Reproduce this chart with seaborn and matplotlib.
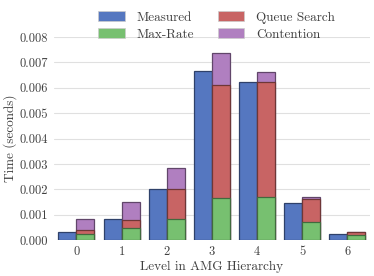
import pandas as pd
import matplotlib.pyplot as plt
import seaborn as sns
from matplotlib.patches import Patch

# Values (seconds)
levels = [0, 1, 2, 3, 4, 5, 6]
measured = [0.00033, 0.00083, 0.00200, 0.00668, 0.00622, 0.00145, 0.00026]
max_rate = [0.00026, 0.00046, 0.00082, 0.00165, 0.00169, 0.00072, 0.00022]
queue_search = [0.00014, 0.00033, 0.00118, 0.00445, 0.00455, 0.00089, 0.00009]
contention = [0.00043, 0.00071, 0.00083, 0.00125, 0.00039, 0.00009, 0.00001]

colors = {'Measured': '#5577c0', 'Max-Rate': '#77c070',
          'Queue Search': '#c86464', 'Contention': '#b07fc0'}

sns.set_style('whitegrid', {'grid.color': '0.88', 'axes.edgecolor': 'white'})
plt.rcParams['font.family'] = 'serif'
plt.rcParams['font.serif'] = ['cmr10']
plt.rcParams['axes.formatter.use_mathtext'] = True
plt.rcParams['text.color'] = '0.25'
plt.rcParams['axes.labelcolor'] = '0.25'
plt.rcParams['xtick.color'] = '0.25'
plt.rcParams['ytick.color'] = '0.25'

# cumulative tops of the stacked model bar
red_top = [g + q for g, q in zip(max_rate, queue_search)]
purple_top = [r + c for r, c in zip(red_top, contention)]

fig = plt.figure(figsize=(3.74, 2.76), dpi=100)
ax = fig.add_axes([0.144, 0.130, 0.845, 0.736])

hue_order = ['Measured', 'Model']

def layer(values, name, with_measured=False):
    rows = [(l, 'Model', v) for l, v in zip(levels, values)]
    if with_measured:
        rows += [(l, 'Measured', v) for l, v in zip(levels, measured)]
    df = pd.DataFrame(rows, columns=['Level', 'Kind', 'Time'])
    pal = {'Measured': colors['Measured'], 'Model': colors[name]}
    sns.barplot(data=df, x='Level', y='Time', hue='Kind', hue_order=hue_order,
                palette=pal, width=0.8, gap=0, dodge=True, ax=ax, legend=False,
                saturation=1, linewidth=0.9, edgecolor='0.25')

layer(purple_top, 'Contention', with_measured=True)
layer(red_top, 'Queue Search')
layer(max_rate, 'Max-Rate')

# darker edges matching each face colour
for p in ax.patches:
    fc = p.get_facecolor()
    p.set_edgecolor((fc[0] * 0.55, fc[1] * 0.55, fc[2] * 0.55, 1))

ax.set_xlim(-0.5, 6.5)
ax.set_ylim(0, 0.008)
ax.set_yticks([i * 0.001 for i in range(9)])
ax.set_yticklabels([f'{i * 0.001:.3f}' for i in range(9)])
ax.set_xlabel('Level in AMG Hierarchy', fontsize=9.5, labelpad=2)
ax.set_ylabel('Time (seconds)', fontsize=9.5, labelpad=2)
ax.tick_params(labelsize=9, length=0, pad=4)
ax.grid(axis='x', visible=False)
for s in ax.spines.values():
    s.set_visible(False)

handles = [Patch(facecolor=colors[k], edgecolor='0.8', linewidth=0.5)
           for k in ['Measured', 'Max-Rate', 'Queue Search', 'Contention']]
ax.legend(handles, ['Measured', 'Max-Rate', 'Queue Search', 'Contention'],
          ncol=2, frameon=False, loc='lower center', bbox_to_anchor=(0.515, 0.95),
          fontsize=9.5, handlelength=2.0, handleheight=0.9, columnspacing=1.8,
          labelspacing=0.3, handletextpad=0.9, borderpad=0)

fig.savefig('out.png', dpi=100)
